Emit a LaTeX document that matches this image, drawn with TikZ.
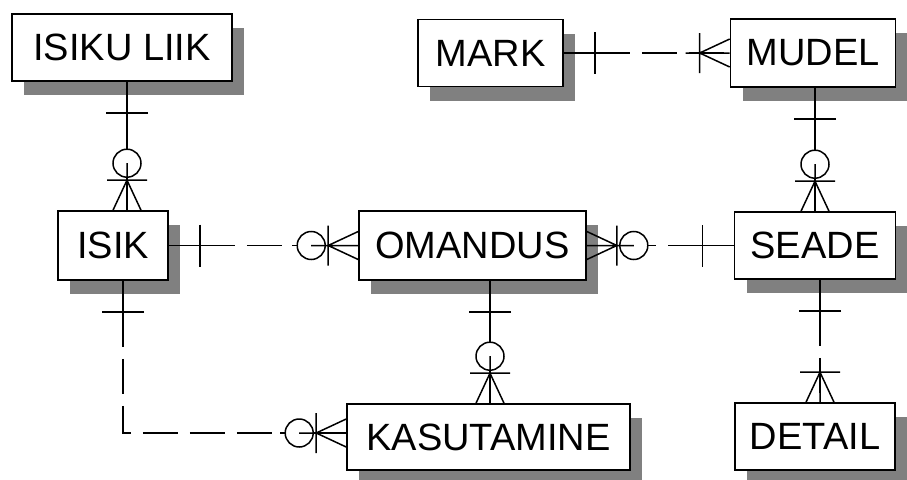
\documentclass[tikz,border=0pt]{standalone}
\usepackage{fontspec}
\setmainfont{Liberation Sans}
\usepackage{tikz}
\usetikzlibrary{shadows}

\begin{document}
\begin{tikzpicture}[
  x=1pt, y=-1pt, line width=1.5pt,
  ent/.style={draw, fill=white, line width=1.6pt, inner sep=0pt,
    font=\fontsize{38}{40}\selectfont,
    drop shadow={shadow xshift=12pt, shadow yshift=-14pt, fill=black!50, opacity=1}},
  dsh/.style={dash pattern=on 35pt off 12pt, dash phase=16pt},
  one/.pic={\draw (0,0) -- (66,0) (31,-21) -- (31,21);},
  crow/.pic={\draw (0,0) -- (44,0) (0,-14) -- (30,0) -- (0,14) (30,-20) -- (30,20);},
  zcrow/.pic={\draw (0,0) -- (66,0);
    \draw[fill=white] (47,0) circle[radius=14];
    \draw (0,0) -- (47,0) (0,-14) -- (30,0) -- (0,14) (30,-20) -- (30,20);},
]
\path[fill=white, use as bounding box] (0,0) rectangle (907,479);

% entities
\node[ent, minimum width=220pt, minimum height=67pt] (liik) at (122,47.5) {ISIKU LIIK};
\node[ent, minimum width=145pt, minimum height=67pt] (mark) at (490.5,53) {MARK};
\node[ent, minimum width=165pt, minimum height=68pt] (mudel) at (813,53) {MUDEL};
\node[ent, minimum width=110pt, minimum height=69pt] (isik) at (113,245.5) {ISIK};
\node[ent, minimum width=227pt, minimum height=69pt] (omandus) at (472.5,245.5) {OMANDUS};
\node[ent, minimum width=161pt, minimum height=67pt] (seade) at (815,245.5) {SEADE};
\node[ent, minimum width=283pt, minimum height=66pt] (kasut) at (488.5,437) {KASUTAMINE};
\node[ent, minimum width=160pt, minimum height=67pt] (detail) at (815,436.5) {DETAIL};

% identifying relationships
\draw ([xshift=5pt]liik.south) -- ([xshift=14pt]isik.north);
\pic[rotate=-90] at ([xshift=5pt]liik.south) {one};
\pic[rotate=90] at ([xshift=14pt]isik.north) {zcrow};

\draw ([xshift=2pt]mudel.south) -- (seade.north);
\pic[rotate=-90] at ([xshift=2pt]mudel.south) {one};
\pic[rotate=90] at (seade.north) {zcrow};

\draw ([xshift=17.5pt]omandus.south) -- ([xshift=1.5pt]kasut.north);
\pic[rotate=-90] at ([xshift=17.5pt]omandus.south) {one};
\pic[rotate=90] at ([xshift=1.5pt]kasut.north) {zcrow};

% non-identifying relationships
\draw[dsh] (mark.east) -- (mudel.west);
\pic at (mark.east) {one};
\pic[rotate=180] at (mudel.west) {crow};

\draw[dsh] (isik.east) -- (omandus.west);
\pic at (isik.east) {one};
\pic[rotate=180] at (omandus.west) {zcrow};

\draw[dsh] (seade.west) -- (omandus.east);
\pic[rotate=180] at (seade.west) {one};
\pic at (omandus.east) {zcrow};

\draw[dsh] ([xshift=10pt]isik.south) |- ([yshift=4pt]kasut.west);
\pic[rotate=-90] at ([xshift=10pt]isik.south) {one};
\pic[rotate=180] at ([yshift=4pt]kasut.west) {zcrow};

\draw[dsh] ([xshift=5pt]seade.south) -- ([xshift=5pt]detail.north);
\pic[rotate=-90] at ([xshift=5pt]seade.south) {one};
\pic[rotate=90] at ([xshift=5pt]detail.north) {crow};
\end{tikzpicture}
\end{document}
